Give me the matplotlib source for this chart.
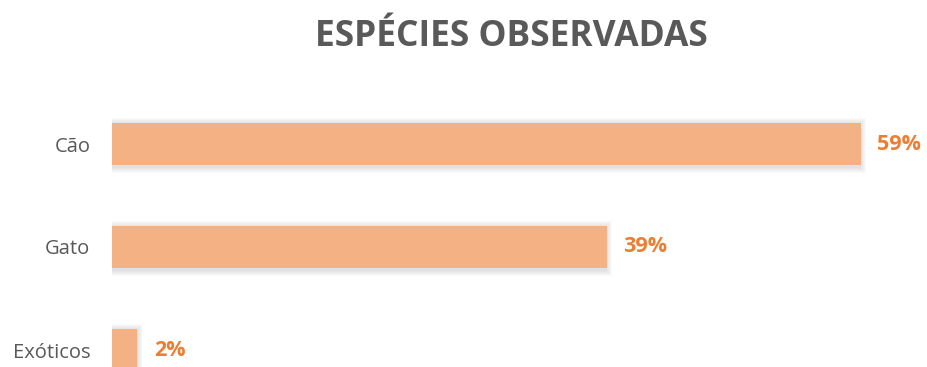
import matplotlib
matplotlib.use("Agg")
import matplotlib.pyplot as plt

categories = ["Cão", "Gato", "Exóticos"]
values = [59, 39, 2]
labels = ["59%", "39%", "2%"]

W, H = 927, 367
fig = plt.figure(figsize=(W / 100, H / 100), dpi=100)
plt.rcParams['font.family'] = ['Open Sans', 'DejaVu Sans']

# axes placed in pixel terms: left edge at x=112, 12.69 px per percent
left_px, right_px = 112, 900
top_px, bot_px = 100, 367
ax = fig.add_axes([left_px / W, 1 - bot_px / H, (right_px - left_px) / W, (bot_px - top_px) / H])
ax.set_xlim(0, (right_px - left_px) / 12.69)
ax.set_ylim(2 + 17 / 103, -44 / 103)

ypos = list(range(len(categories)))
bar_h = 42 / 103

# soft drop shadow
for i in range(6):
    grow = 0.003 * (i + 1)
    ax.barh([y + 0.015 for y in ypos], [v + 0.45 * (i + 1) / 6 for v in values],
            height=bar_h + grow * 7, left=-0.05, color="#000000", alpha=0.02, lw=0, zorder=1)

ax.barh(ypos, values, height=bar_h, color="#F4B183", lw=0, zorder=3)

for y, v, t in zip(ypos, values, labels):
    ax.text(v + 1.3, y, t, color="#ED7D31", fontsize=15.5, fontweight="bold",
            va="center", ha="left", zorder=4)

ax.set_yticks(ypos)
ax.set_yticklabels(categories, fontsize=14.5, color="#595959")
ax.tick_params(axis="y", length=0, pad=15.5)
ax.set_xticks([])
for s in ax.spines.values():
    s.set_visible(False)

fig.text(511 / W, 1 - 37 / H, "ESPÉCIES OBSERVADAS", ha="center", va="center",
         fontsize=25.5, fontweight="bold", color="#595959")

fig.savefig("out.png", dpi=100)
